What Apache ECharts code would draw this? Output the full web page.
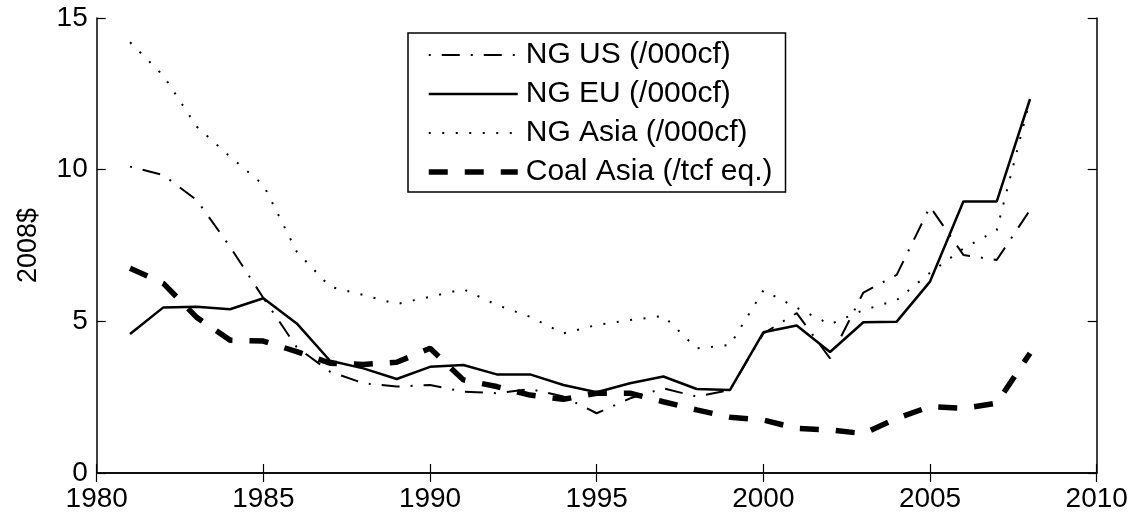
<!DOCTYPE html>
<html>
<head>
<meta charset="utf-8">
<script src="https://cdn.jsdelivr.net/npm/echarts@6/dist/echarts.min.js"></script>
<style>
html,body{margin:0;padding:0;background:#fff;}
#chart{width:1136px;height:521px;}
</style>
</head>
<body>
<div id="chart"></div>
<script>
var years = [1981,1982,1983,1984,1985,1986,1987,1988,1989,1990,1991,1992,1993,1994,1995,1996,1997,1998,1999,2000,2001,2002,2003,2004,2005,2006,2007,2008];
var ngUS = [10.10,9.82,9.00,7.46,5.77,4.15,3.34,2.96,2.85,2.90,2.68,2.63,2.77,2.52,1.97,2.46,2.79,2.52,2.74,4.60,5.27,3.78,5.95,6.53,8.78,7.19,7.02,8.67];
var ngEU = [4.58,5.46,5.48,5.40,5.76,4.93,3.70,3.45,3.10,3.50,3.56,3.25,3.25,2.90,2.66,2.96,3.18,2.77,2.74,4.64,4.86,3.99,4.97,4.99,6.31,8.95,8.95,12.33];
var ngAsia = [14.20,13.10,11.42,10.43,9.50,7.30,6.14,5.87,5.57,5.81,6.06,5.54,5.15,4.60,4.88,5.04,5.18,4.11,4.22,6.02,5.45,4.90,5.37,5.70,6.60,7.40,8.00,12.30];
var coalAsia = [6.75,6.25,5.13,4.38,4.35,4.00,3.62,3.58,3.65,4.11,3.07,2.85,2.57,2.43,2.63,2.63,2.35,2.08,1.84,1.75,1.47,1.42,1.30,1.80,2.19,2.13,2.30,3.95];
var seriesNames = ['NG US (/000cf)','NG EU (/000cf)','NG Asia (/000cf)','Coal Asia (/tcf eq.)'];
var yLabel = '2008$';

function pairs(vals){ return years.map(function(y,i){ return [y, vals[i]]; }); }

var font = 'Liberation Sans, Arial, Helvetica, sans-serif';
var axisLine = {show:true, lineStyle:{color:'#000', width:1.5}};
var axisTick = {show:true, inside:true, length:9, lineStyle:{color:'#000', width:1.2}};

var chart = echarts.init(document.getElementById('chart'), null, {renderer:'canvas'});
chart.setOption({
  animation:false,
  backgroundColor:'#fff',
  grid:{left:96.7, right:39.3, top:18, bottom:48, containLabel:false},
  xAxis:[
    {type:'value', min:1980, max:2010, interval:5, position:'bottom',
     axisLine:axisLine, axisTick:axisTick, splitLine:{show:false},
     axisLabel:{color:'#000', fontSize:28, fontFamily:font, margin:12,
                formatter:function(v){ return String(v); }}},
    {type:'value', min:1980, max:2010, interval:5, position:'top',
     axisLine:axisLine, axisTick:axisTick, splitLine:{show:false},
     axisLabel:{show:false}}
  ],
  yAxis:[
    {type:'value', min:0, max:15, interval:5, position:'left',
     name:yLabel, nameLocation:'middle', nameRotate:90, nameGap:55,
     nameTextStyle:{color:'#000', fontSize:27, fontFamily:font},
     axisLine:axisLine, axisTick:axisTick, splitLine:{show:false},
     axisLabel:{color:'#000', fontSize:28, fontFamily:font, margin:9}},
    {type:'value', min:0, max:15, interval:5, position:'right',
     axisLine:axisLine, axisTick:axisTick, splitLine:{show:false},
     axisLabel:{show:false}}
  ],
  legend:{
    orient:'vertical', left:408, top:33,
    padding:[7,13,5,18], itemGap:9, itemWidth:89, itemHeight:30,
    borderColor:'#000', borderWidth:1.5, backgroundColor:'#fff',
    itemStyle:{opacity:0},
    lineStyle:{width:'inherit', type:'inherit', color:'inherit'},
    textStyle:{color:'#000', fontSize:30, fontFamily:font, lineHeight:30, padding:[0,0,0,3]},
    data:seriesNames
  },
  series:[
    {name:seriesNames[0], type:'line', data:pairs(ngUS), symbol:'none', z:4,
     lineStyle:{color:'#000', width:2, type:[2,11,18,11], cap:'butt'}},
    {name:seriesNames[1], type:'line', data:pairs(ngEU), symbol:'none', z:3,
     lineStyle:{color:'#000', width:2.5, type:'solid'}},
    {name:seriesNames[2], type:'line', data:pairs(ngAsia), symbol:'none', z:2,
     lineStyle:{color:'#000', width:2, type:[2,11.5], cap:'butt'}},
    {name:seriesNames[3], type:'line', data:pairs(coalAsia), symbol:'none', z:1,
     lineStyle:{color:'#000', width:5.5, type:[19,17], cap:'butt'}}
  ]
});
</script>
</body>
</html>
